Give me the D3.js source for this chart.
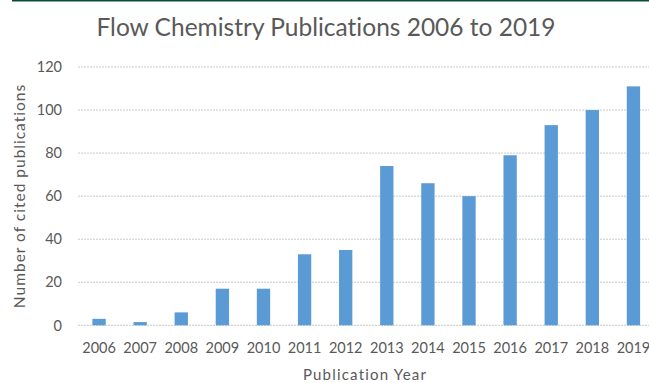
<!DOCTYPE html>
<html>
<head>
<meta charset="utf-8">
<script src="https://cdn.jsdelivr.net/npm/d3@7"></script>
<style>
  html, body { margin: 0; padding: 0; background: #fff; }
  svg { display: block; }
  text { font-family: Lato, "Open Sans", sans-serif; fill: #595959; font-variant-ligatures: none; }
</style>
</head>
<body>
<svg id="chart" width="649" height="383"></svg>
<script>
const years = ["2006","2007","2008","2009","2010","2011","2012","2013","2014","2015","2016","2017","2018","2019"];
const publications = [3, 1.5, 6, 17, 17, 33, 35, 74, 66, 60, 79, 93, 100, 111];
const yTicks = [0, 20, 40, 60, 80, 100, 120];
const titleText = "Flow Chemistry Publications 2006 to 2019";
const xTitle = "Publication Year";
const yTitle = "Number of cited publications";

const svg = d3.select("#chart");

// top green rule
svg.append("rect").attr("x", 12).attr("y", 0).attr("width", 637).attr("height", 1.5).attr("fill", "#0b4d32");

const x = d3.scaleBand().domain(years).range([78.5, 654]).paddingInner(0.676).paddingOuter(0.338);
const y = d3.scaleLinear().domain([0, 120]).range([325.3, 67]);

// gridlines
svg.append("g").selectAll("line").data(yTicks).join("line")
  .attr("x1", 78).attr("x2", 649)
  .attr("y1", d => y(d)).attr("y2", d => y(d))
  .attr("stroke", "#c9c9c9").attr("stroke-width", 1).attr("stroke-dasharray", "2,1");

// y tick labels
svg.append("g").selectAll("text").data(yTicks).join("text")
  .attr("x", 62).attr("y", d => y(d)).attr("dy", "0.36em")
  .attr("text-anchor", "end").attr("font-size", 14.5)
  .text(d => d);

// bars
svg.append("g").selectAll("rect").data(years).join("rect")
  .attr("x", d => x(d)).attr("width", x.bandwidth())
  .attr("y", (d, i) => y(publications[i]))
  .attr("height", (d, i) => y(0) - y(publications[i]))
  .attr("fill", "#5b9bd5");

// x tick labels
svg.append("g").selectAll("text").data(years).join("text")
  .attr("x", d => x(d) + x.bandwidth() / 2).attr("y", 353)
  .attr("text-anchor", "middle").attr("font-size", 14.5)
  .text(d => d);

// title
svg.append("text").attr("x", 326).attr("y", 36).attr("text-anchor", "middle")
  .attr("font-size", 24.5).text(titleText);

// axis titles
svg.append("text").attr("x", 365).attr("y", 380).attr("text-anchor", "middle")
  .attr("font-size", 15).attr("letter-spacing", 1.2).text(xTitle);

svg.append("text").attr("transform", "translate(25,196) rotate(-90)")
  .attr("text-anchor", "middle").attr("font-size", 15.5).attr("letter-spacing", 1).text(yTitle);
</script>
</body>
</html>
